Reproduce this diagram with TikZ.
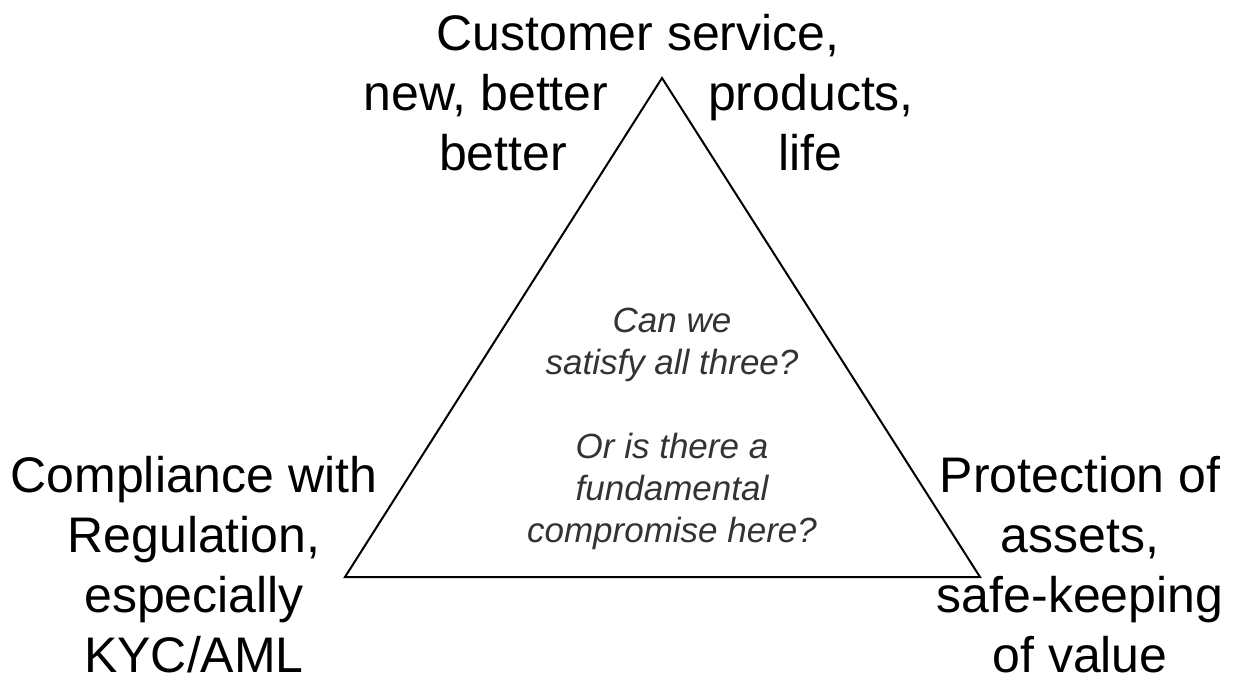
\documentclass[tikz,border=0pt]{standalone}
\usepackage{fontspec}
\setmainfont{Liberation Sans}
\definecolor{qgray}{HTML}{333333}
\begin{document}
\begin{tikzpicture}[x=0.5pt,y=-0.5pt,
  big/.style={inner sep=0pt, outer sep=0pt, align=center, anchor=base, text=black,
    font=\fontsize{25}{30}\selectfont},
  ital/.style={inner sep=0pt, outer sep=0pt, align=center, anchor=base, text=qgray,
    font=\fontsize{17.5}{21}\selectfont\itshape},
  edge/.style={draw=black, line width=1pt, line join=miter}]
\useasboundingbox (0,0) rectangle (1236,680);
\coordinate (top) at (662,78);
\coordinate (bl) at (345,577);
\coordinate (br) at (980,577);
\draw[edge] (top) -- (bl) -- (br) -- cycle;
\node[big] (cs) at (638,50) {Customer service,};
\node[big] (nb) at (486,110) {new, better};
\node[big] (b2) at (503,170) {better};
\node[big] (pr) at (811,110) {products,};
\node[big] (lf) at (810,170) {life};
\node[big] (comp) at (194,672) {Compliance with\\Regulation,\\especially\\KYC/AML};
\node[big] (prot) at (1080,672) {Protection of\\assets,\\safe-keeping\\of value};
\node[ital] (q) at (672,542) {Can we\\satisfy all three?\\[21pt]Or is there a\\fundamental\\compromise here?};
\end{tikzpicture}
\end{document}
